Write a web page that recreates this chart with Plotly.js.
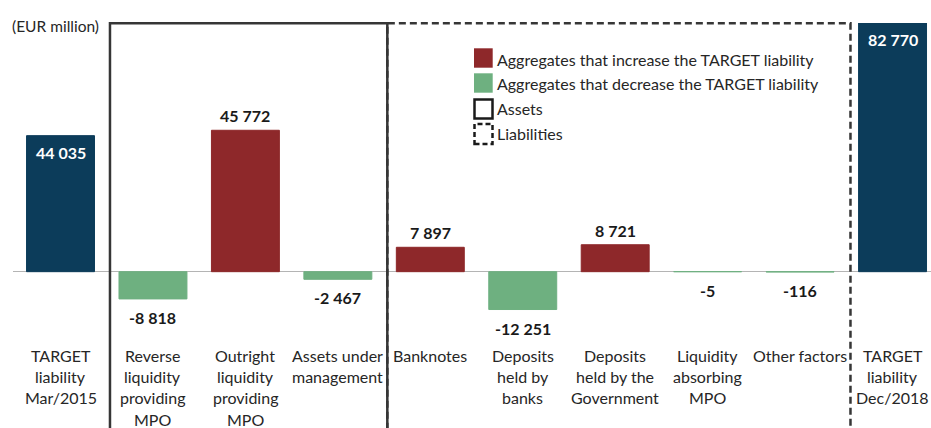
<!DOCTYPE html>
<html>
<head>
<meta charset="utf-8">
<script src="https://cdn.plot.ly/plotly-3.0.1.min.js"></script>
<style>html,body{margin:0;padding:0;background:#fff;}#chart{width:931px;height:428px;}</style>
</head>
<body>
<div id="chart"></div>
<script>
// ---- data ----
const categories = [
  "TARGET<br>liability<br>Mar/2015",
  "Reverse<br>liquidity<br>providing<br>MPO",
  "Outright<br>liquidity<br>providing<br>MPO",
  "Assets under<br>management",
  "Banknotes",
  "Deposits<br>held by<br>banks",
  "Deposits<br>held by the<br>Government",
  "Liquidity<br>absorbing<br>MPO",
  "Other factors",
  "TARGET<br>liability<br>Dec/2018"
];
const values = [44035, -8818, 45772, -2467, 7897, -12251, 8721, -5, -116, 82770];
const kinds = ["total","change","change","change","change","change","change","change","change","total"];
const legendLabels = [
  "Aggregates that increase the TARGET liability",
  "Aggregates that decrease the TARGET liability",
  "Assets",
  "Liabilities"
];
const unitLabel = "(EUR million)";

// ---- style ----
const FONT = "Lato, 'Open Sans', sans-serif";
const C_TOTAL = "#0c3c5a", C_UP = "#8e282a", C_DOWN = "#6eb080", C_BOX = "#363636";
const W = 931, H = 428, ML = 13, MT = 23, MR = 0, MB = 0;
const PW = W - ML - MR, PH = H - MT - MB;
const YMIN = -50600, YMAX = 80500;
const px2x = p => (p - ML) / PW;
const px2y = p => (H - MB - p) / PH;

function fmt(v) {
  const s = Math.abs(v).toString().replace(/\B(?=(\d{3})+(?!\d))/g, " ");
  return (v < 0 ? "-" : "") + s;
}

const xs = values.map((_, i) => i);
const colors = values.map((v, i) => kinds[i] === "total" ? C_TOTAL : (v >= 0 ? C_UP : C_DOWN));

const bar = {
  type: "bar", x: xs, y: values, width: 0.735,
  marker: {color: colors, line: {width: 1, color: colors}},
  hoverinfo: "skip", showlegend: false
};

const annotations = [];
// data labels
values.forEach((v, i) => {
  if (kinds[i] === "total") {
    annotations.push({x: i, y: Math.min(v, YMAX), xref: "x", yref: "y", yanchor: "top", yshift: -5,
      text: "<b>" + fmt(v) + "</b>", showarrow: false, font: {family: FONT, size: 16, color: "#ffffff"}});
  } else if (v >= 0) {
    annotations.push({x: i, y: v, xref: "x", yref: "y", yanchor: "bottom", yshift: 3,
      text: "<b>" + fmt(v) + "</b>", showarrow: false, font: {family: FONT, size: 16, color: "#1a1a1a"}});
  } else {
    annotations.push({x: i, y: v, xref: "x", yref: "y", yanchor: "top", yshift: -7,
      text: "<b>" + fmt(v) + "</b>", showarrow: false, font: {family: FONT, size: 16, color: "#1a1a1a"}});
  }
});
// category labels (one annotation per line for tighter control of line spacing)
categories.forEach((c, i) => {
  c.split("<br>").forEach((line, j) => {
    annotations.push({x: i, y: px2y(355.5 + j * 21.2), xref: "x", yref: "paper", yanchor: "middle",
      text: line, showarrow: false, font: {family: FONT, size: 16, color: "#262626"}});
  });
});
// unit label
annotations.push({x: px2x(10), y: px2y(25.5), xref: "paper", yref: "paper", xanchor: "left", yanchor: "middle",
  text: unitLabel, showarrow: false, font: {family: FONT, size: 15.5, color: "#262626"}});
// legend texts
const legendY = [59, 83.5, 108.5, 133];
legendLabels.forEach((t, k) => {
  annotations.push({x: px2x(495), y: px2y(legendY[k]), xref: "paper", yref: "paper", xanchor: "left", yanchor: "middle",
    text: t, showarrow: false, font: {family: FONT, size: 16, color: "#262626"}});
});

const shapes = [
  // liabilities box (dashed)
  {type: "rect", xref: "x", yref: "paper", x0: 3.535, x1: 8.545, y0: -0.1, y1: px2y(23.3),
   line: {color: C_BOX, width: 2.5, dash: "7px,4px"}},
  // assets box (solid)
  {type: "rect", xref: "x", yref: "paper", x0: 0.535, x1: 3.535, y0: -0.1, y1: px2y(23.3),
   line: {color: C_BOX, width: 2.5}},
  // legend symbols
  {type: "rect", xref: "paper", yref: "paper", x0: px2x(474), x1: px2x(492.7), y0: px2y(67.7), y1: px2y(48.3),
   fillcolor: C_UP, line: {width: 0}},
  {type: "rect", xref: "paper", yref: "paper", x0: px2x(474), x1: px2x(492.7), y0: px2y(92.7), y1: px2y(73.3),
   fillcolor: C_DOWN, line: {width: 0}},
  {type: "rect", xref: "paper", yref: "paper", x0: px2x(474.5), x1: px2x(492.5), y0: px2y(118.5), y1: px2y(99.5),
   line: {color: "#1a1a1a", width: 2.5}},
  {type: "rect", xref: "paper", yref: "paper", x0: px2x(474.5), x1: px2x(492.5), y0: px2y(144), y1: px2y(124),
   line: {color: "#1a1a1a", width: 2.5, dash: "5px,3px"}}
];

const layout = {
  width: W, height: H,
  margin: {l: ML, r: MR, t: MT, b: MB, pad: 0},
  paper_bgcolor: "#ffffff", plot_bgcolor: "#ffffff",
  font: {family: FONT, size: 15, color: "#262626"},
  showlegend: false,
  xaxis: {range: [-0.514, 9.416], showgrid: false, zeroline: false, showticklabels: false, ticks: "", showline: false, fixedrange: true},
  yaxis: {range: [YMIN, YMAX], showgrid: false, zeroline: true, zerolinecolor: "#b4b4b4", zerolinewidth: 1,
          showticklabels: false, ticks: "", showline: false, fixedrange: true},
  shapes: shapes,
  annotations: annotations
};

Plotly.newPlot("chart", [bar], layout, {displayModeBar: false, staticPlot: true});
</script>
</body>
</html>
